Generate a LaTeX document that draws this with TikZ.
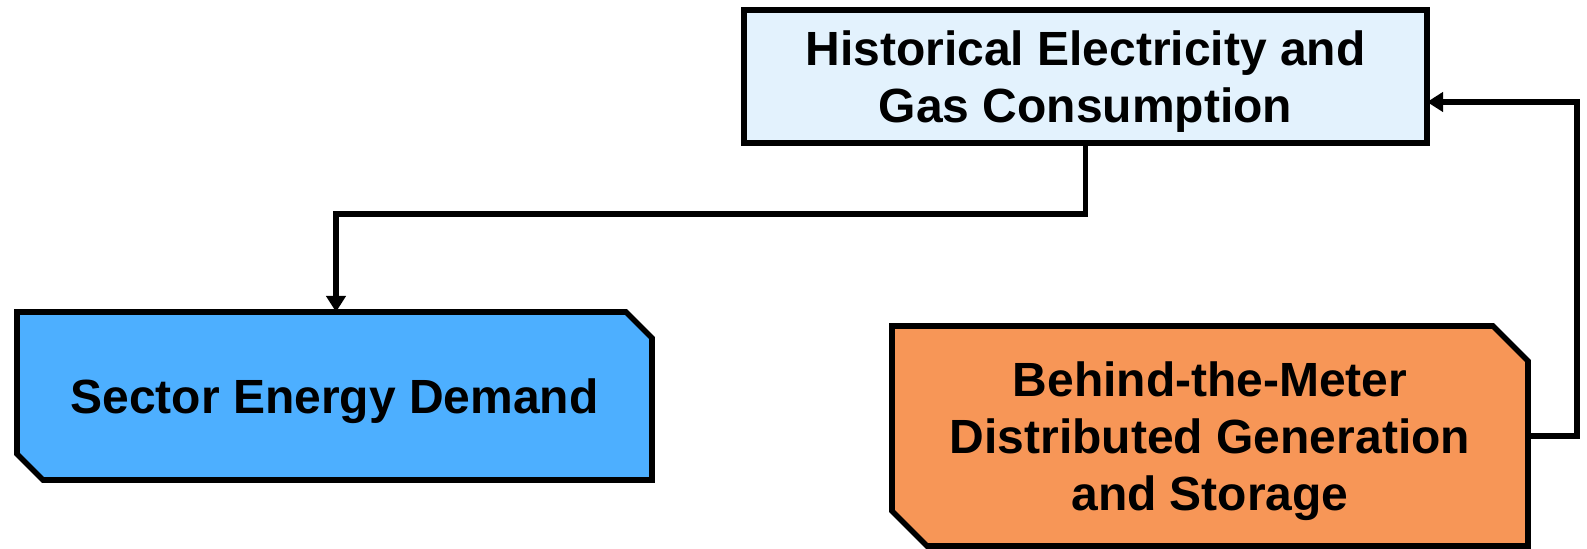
\documentclass[tikz,border=0pt]{standalone}
\usepackage{fontspec}
\setmainfont{Liberation Sans}
\usetikzlibrary{arrows.meta,backgrounds}
\definecolor{histfill}{HTML}{E3F2FD}
\definecolor{sectfill}{HTML}{4DAFFF}
\definecolor{btmfill}{HTML}{F79657}
\begin{document}
\begin{tikzpicture}[x=0.5pt,y=-0.5pt,
  lbl/.style={inner sep=0pt, outer sep=0pt, align=center, text depth=0pt, font=\bfseries\fontsize{24}{28.5}\selectfont},
  border/.style={line width=2.8pt, draw=black, line join=miter},
  conn/.style={line width=2.8pt, -{Triangle[length=8pt,width=9.5pt]}}]
\useasboundingbox (0,0) rectangle (1587,549);
\node[lbl, minimum width=341.5pt, minimum height=66.5pt] (hist) at (1085.5,76.5) {Historical Electricity and\\Gas Consumption};
\node[lbl, minimum width=317.5pt, minimum height=84pt] (sect) at (334.5,396) {Sector Energy Demand};
\node[lbl, minimum width=318pt, minimum height=110pt] (btm) at (1210,436) {Behind-the-Meter\\Distributed Generation\\and Storage};
\begin{scope}[on background layer]
\draw[border, fill=histfill] (hist.north west) rectangle (hist.south east);
\draw[border, fill=sectfill] (sect.north west) -- ([xshift=-13pt]sect.north east) -- ([yshift=-13pt]sect.north east) -- (sect.south east) -- ([xshift=13pt]sect.south west) -- ([yshift=13pt]sect.south west) -- cycle;
\draw[border, fill=btmfill] (btm.north west) -- ([xshift=-17.5pt]btm.north east) -- ([yshift=-17.5pt]btm.north east) -- (btm.south east) -- ([xshift=17.5pt]btm.south west) -- ([yshift=17.5pt]btm.south west) -- cycle;
\end{scope}
\coordinate (k1) at (336,214);
\coordinate (k2) at (1577,102);
\draw[conn] (hist.south) |- (k1) -- (k1 |- sect.north);
\draw[conn] (btm.east) -| (k2) -- (k2 -| hist.east);
\end{tikzpicture}
\end{document}
